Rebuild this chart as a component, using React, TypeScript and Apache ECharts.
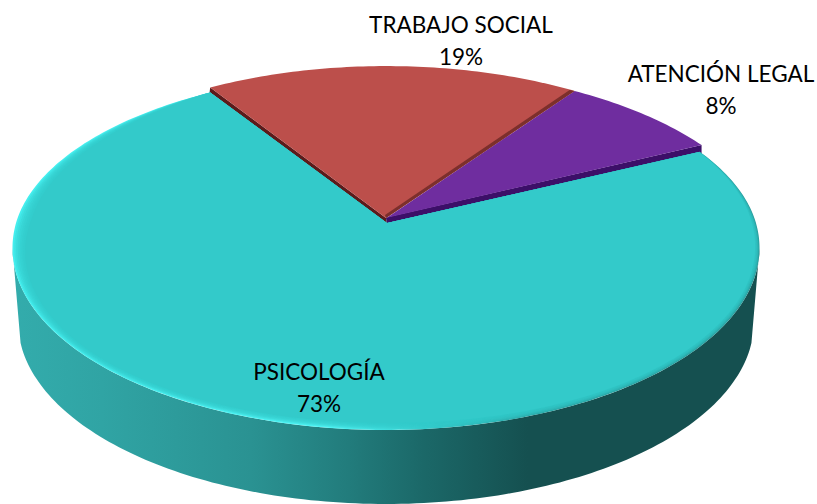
import React, { useEffect, useRef } from "react";
import * as echarts from "echarts";

const categories = ["TRABAJO SOCIAL", "ATENCIÓN LEGAL", "PSICOLOGÍA"];
const values = [19, 8, 73];
const faceColors = ["#bc4f4b", "#6f2d9f", "#33caca"];
const edgeColors = ["#5c1b1b", "#3c0f68", "#7c2f2c"];

const LABEL_POS = [
  [461, 24, 56],
  [721, 73, 105],
  [319, 371, 403],
];

const CX = 386, CY = 218, K = 0.165, A = 177, B = 368.4, DEPTH = 74, LOWER_SCALE = 0.985;
const START_DEG = -32.9;
const REAR_DROP = 6;
const rad = (d: number) => (d * Math.PI) / 180;

const rim = (deg: number, r = 1): [number, number] => {
  const u = r * Math.sin(rad(deg));
  const v = r * Math.cos(rad(deg));
  const w = 1 + K * v;
  return [CX + (B * u) / w, CY - (A * v) / w];
};

const arc = (a: number, b: number, r = 1, r2 = r) => {
  const pts: [number, number][] = [];
  const n = Math.max(2, Math.ceil(Math.abs(b - a)));
  for (let i = 0; i <= n; i++) pts.push(rim(a + ((b - a) * i) / n, r + ((r2 - r) * i) / n));
  return pts;
};

// the largest slice's far rim sits a little lower than the two lifted slices
const lowRim = (a: number, b: number) =>
  arc(a, b).map((p, i, all) => {
    const deg = a + ((b - a) * i) / (all.length - 1);
    return [p[0], p[1] + REAR_DROP * Math.max(0, Math.cos(rad(deg)))] as [number, number];
  });

// width of the bevel around the rim, by direction
const BEVEL: [number, number][] = [
  [60, 0], [90, 4], [135, 6], [180, 7], [225, 8], [270, 14], [300, 8], [326, 0],
];
const bevelAt = (deg: number) => {
  const d = ((deg % 360) + 360) % 360;
  for (let i = 0; i < BEVEL.length - 1; i++) {
    const [a, wa] = BEVEL[i];
    const [b, wb] = BEVEL[i + 1];
    if (d >= a && d <= b) return wa + ((wb - wa) * (d - a)) / (b - a);
  }
  return 0;
};
const insetArc = (a: number, b: number, t: number) =>
  lowRim(a, b).map((p, i, all) => {
    const deg = a + ((b - a) * i) / (all.length - 1);
    const dx = CX - p[0];
    const dy = CY + 30 - p[1];
    const len = Math.hypot(dx, dy);
    const w = bevelAt(deg) * t;
    return [p[0] + (dx / len) * w, p[1] + (dy / len) * w] as [number, number];
  });

const grad = (stops: [number, string][]) => ({
  type: "linear", x: 12, y: 0, x2: 760, y2: 0, global: true,
  colorStops: stops.map(([offset, color]) => ({ offset, color })),
});
const wallFill = grad([
  [0, "#33acac"], [0.12, "#30a4a4"], [0.32, "#2a9292"], [0.45, "#227c7c"],
  [0.55, "#1b6868"], [0.69, "#155050"], [1, "#155050"],
]);
const rimFill = grad([
  [0, "#44eeee"], [0.42, "#52f6f6"], [0.56, "#33caca"], [0.7, "#2aa8a8"], [1, "#2a9c9c"],
]);

const total = values.reduce((s, v) => s + v, 0);
const angles = values.reduce<number[]>(
  (acc, v) => [...acc, acc[acc.length - 1] + (v / total) * 360],
  [START_DEG],
);

const poly = (points: number[][], fill: any, z2: number, extra: any = {}) => ({
  type: "polygon", silent: true, z2, shape: { points }, style: { fill, ...extra },
});

const renderItem = (params: any, api: any) => {
  const i = params.dataIndex;
  const a = angles[i];
  const b = angles[i + 1];
  const value = api.value(0);
  const children: any[] = [];
  if (i < 2) {
    const apex: [number, number] = [CX, CY];
    if (i === 0) {
      children.push(poly([apex, ...arc(a, b)], faceColors[i], 2));
      const p = rim(a);
      children.push(poly(
        [[CX, CY], p, [p[0] - 1, p[1] + 7], [CX + 1, CY + 6]],
        edgeColors[0], 1,
      ));
      const q = rim(b);
      children.push(poly(
        [[CX, CY], q, [q[0] - 5, q[1] - 1], [CX - 1, CY - 3]],
        edgeColors[2], 3,
      ));
    } else {
      const p = rim(b, 1.02);
      children.push(poly([[CX, CY], [CX + 2, CY - 1], ...arc(a, b, 1, 1.02)], faceColors[i], 2));
      children.push(poly(
        [[CX, CY], [CX + 2, CY - 1], p, [p[0], p[1] + 10], [CX + 1, CY + 6]],
        edgeColors[1], 1,
      ));
    }
  } else {
    const s = a + 1.2;
    const e = b;
    const lower = arc(106, 254).map(([x, y]) => [CX + (x - CX) * LOWER_SCALE, y + DEPTH]);
    children.push(poly([...arc(99.5, 260.5), ...lower.reverse()], wallFill, 0));
    const apex = [CX + 1, CY + 5];
    children.push(poly([apex, ...lowRim(s, e)], rimFill, 4));
    const layers = 7;
    for (let l = 1; l <= layers; l++) {
      children.push(poly(
        [apex, ...insetArc(s, e, l / layers)],
        faceColors[2], 4 + l,
        { opacity: l === layers ? 1 : 0.3 },
      ));
    }
  }
  const [x, y1, y2] = LABEL_POS[i];
  const text = (t: string, y: number) => ({
    type: "text", silent: true, z2: 20, x, y,
    style: {
      text: t, fill: "#000", fontFamily: "Lato", fontSize: 22.5,
      textAlign: "center", textVerticalAlign: "middle",
      align: "center", verticalAlign: "middle",
    },
  });
  children.push(text(categories[i], y1), text(`${value}%`, y2));
  return { type: "group", children };
};

export default function App() {
  const ref = useRef<HTMLDivElement>(null);
  useEffect(() => {
    const chart = echarts.init(ref.current!, null, { renderer: "svg" });
    chart.setOption({
      animation: false,
      backgroundColor: "#ffffff",
      series: [{
        type: "custom",
        coordinateSystem: "none",
        renderItem,
        silent: true,
        clip: false,
        data: values.map((v, i) => ({ name: categories[i], value: [v] })),
      }],
    });
    return () => chart.dispose();
  }, []);
  return <div ref={ref} style={{ position: "fixed", left: 0, top: 0, width: 817, height: 504 }} />;
}
